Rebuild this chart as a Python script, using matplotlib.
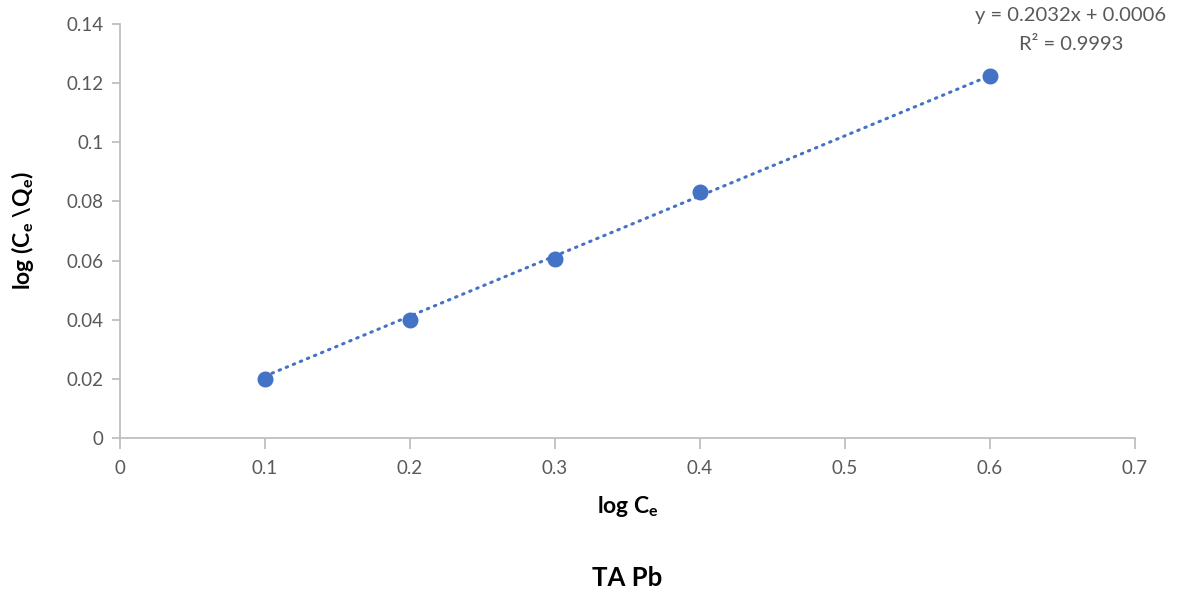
import matplotlib.pyplot as plt
from matplotlib.ticker import FuncFormatter
import numpy as np

plt.rcParams['font.family'] = ['Lato', 'DejaVu Sans']
plt.rcParams['mathtext.fontset'] = 'custom'
plt.rcParams['mathtext.rm'] = 'Lato:bold'
plt.rcParams['mathtext.it'] = 'Lato:bold'
plt.rcParams['mathtext.bf'] = 'Lato:bold'

# measured points
log_ce = [0.1, 0.2, 0.3, 0.4, 0.6]
log_ce_qe = [0.020, 0.040, 0.0607, 0.0833, 0.1225]

# linear trendline
slope = 0.2032
intercept = 0.0006
r2 = 0.9993

x_ticks = [0, 0.1, 0.2, 0.3, 0.4, 0.5, 0.6, 0.7]
y_ticks = [0, 0.02, 0.04, 0.06, 0.08, 0.1, 0.12, 0.14]

blue = '#4472c4'
grey_txt = '#595959'
axis_col = '#bfbfbf'

fig = plt.figure(figsize=(11.81, 5.92), dpi=100)
ax = fig.add_axes([120/1181, 1 - 438/592, (1135 - 120)/1181, (438 - 24)/592])

xs = np.array([min(log_ce), max(log_ce)])
ax.plot(xs, slope * xs + intercept, color=blue, lw=2.2,
        linestyle=(0, (0.5, 2.0)), dash_capstyle='round', zorder=2)
ax.plot(log_ce, log_ce_qe, 'o', color=blue, markersize=10.5, zorder=3)

ax.set_xlim(0, 0.7)
ax.set_ylim(0, 0.14)
ax.set_xticks(x_ticks)
ax.set_yticks(y_ticks)
fmt = FuncFormatter(lambda v, p: ('%g' % round(v, 4)))
ax.xaxis.set_major_formatter(fmt)
ax.yaxis.set_major_formatter(fmt)

for s in ['top', 'right']:
    ax.spines[s].set_visible(False)
for s in ['left', 'bottom']:
    ax.spines[s].set_color(axis_col)
    ax.spines[s].set_linewidth(1.3)
ax.tick_params(axis='both', colors=axis_col, labelcolor=grey_txt,
               labelsize=13.5, width=1.3)
ax.tick_params(axis='x', length=8, pad=8)
ax.tick_params(axis='y', length=6, pad=6)

ax.set_xlabel('log C$_e$', fontsize=16.5, fontweight='bold', labelpad=12)
ax.set_ylabel('log (C$_e$ \\Q$_e$)', fontsize=16.5, fontweight='bold', labelpad=22)

eq = 'y = %.4fx + %.4f' % (slope, intercept)
fig.text(1071/1181, 1 - 16/592, eq, ha='center', va='center',
         fontsize=14.5, color=grey_txt)
fig.text(1071/1181, 1 - 44/592, 'R² = %.4f' % r2, ha='center', va='center',
         fontsize=14.5, color=grey_txt)
fig.text(627/1181, 1 - 578/592, 'TA Pb', ha='center', va='center',
         fontsize=18.5, fontweight='bold')

fig.savefig('out.png', dpi=100)
